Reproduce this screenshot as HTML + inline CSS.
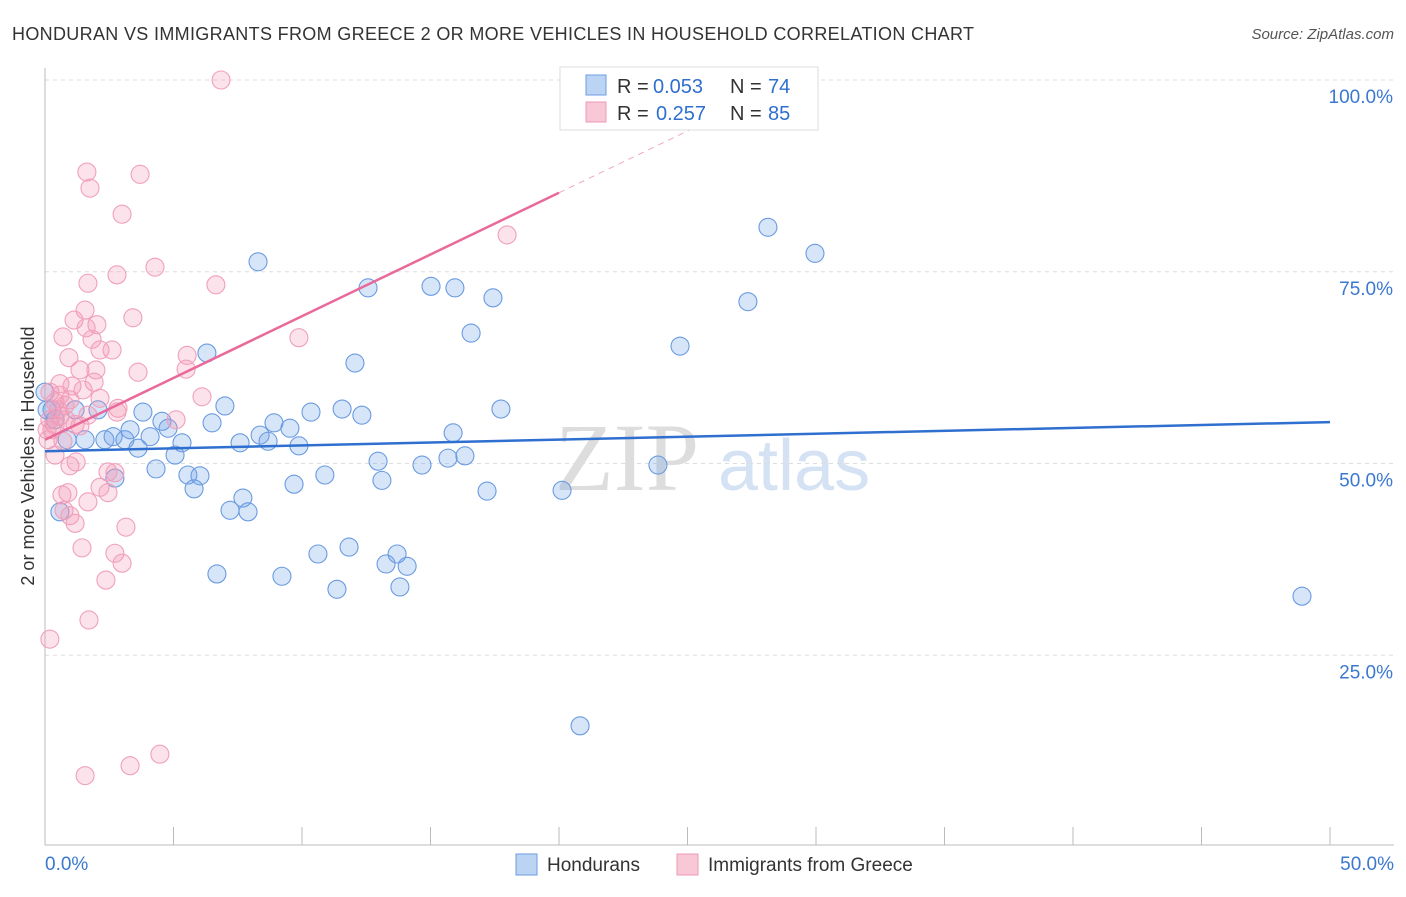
<!DOCTYPE html>
<html><head><meta charset="utf-8"><style>
body{margin:0;background:#fff;font-family:"Liberation Sans",sans-serif}
</style></head><body>
<svg id="c" width="1406" height="892" xmlns="http://www.w3.org/2000/svg" style="font-family:'Liberation Sans',sans-serif">
<text x="12" y="40" font-size="18" fill="#333" textLength="962">HONDURAN VS IMMIGRANTS FROM GREECE 2 OR MORE VEHICLES IN HOUSEHOLD CORRELATION CHART</text>
<text x="1394" y="39" font-size="15" fill="#555" font-style="italic" text-anchor="end">Source: ZipAtlas.com</text>
<text x="34" y="456" font-size="18" fill="#333" text-anchor="middle" transform="rotate(-90 34 456)">2 or more Vehicles in Household</text>
<g><text x="555" y="490" font-size="96" fill="#ddd" font-family="Liberation Serif">ZIP</text><text x="718" y="490" font-size="72" fill="#d4e2f4">atlas</text></g>
<g id="grid"></g><g id="axes"></g><g id="pts"></g><g id="trend"></g>
<g>
<rect x="560" y="67" width="258" height="63" fill="#fff" stroke="#ddd"/>
<rect x="586" y="75" width="20" height="20" fill="#bcd4f4" stroke="#6a9be0"/>
<rect x="586" y="102" width="20" height="20" fill="#f9c8d6" stroke="#ee9ab5"/>
<text x="617" y="93" font-size="20" fill="#333">R =</text>
<text x="653" y="93" font-size="20" fill="#2f6fd0">0.053</text>
<text x="730" y="93" font-size="20" fill="#333">N =</text>
<text x="768" y="93" font-size="20" fill="#2f6fd0">74</text>
<text x="617" y="120" font-size="20" fill="#333">R =</text>
<text x="656" y="120" font-size="20" fill="#2f6fd0">0.257</text>
<text x="730" y="120" font-size="20" fill="#333">N =</text>
<text x="768" y="120" font-size="20" fill="#2f6fd0">85</text>
</g>
<g>
<rect x="516" y="854" width="21" height="21" fill="#bcd4f4" stroke="#6a9be0"/>
<text x="547" y="871" font-size="19" fill="#333">Hondurans</text>
<rect x="677" y="854" width="21" height="21" fill="#f9c8d6" stroke="#ee9ab5"/>
<text x="708" y="871" font-size="19" fill="#333">Immigrants from Greece</text>
</g>
</svg>
<script>
const yTicks=[25,50,75,100];
const yTickLabels=["25.0%","50.0%","75.0%","100.0%"];
const xTickLabels=["0.0%","50.0%"];
const blueX=[0.58,0.08,0.39,0.86,1.17,1.56,2.06,2.33,2.65,3.11,3.31,3.62,3.81,4.09,4.32,4.55,4.79,5.06,5.33,5.56,5.80,6.03,6.30,6.50,6.69,7.00,7.20,7.59,7.70,7.90,8.29,8.37,8.68,8.91,9.22,9.53,9.69,9.88,10.35,10.62,10.89,11.36,11.56,11.83,12.06,12.33,12.57,12.96,13.11,13.27,13.70,13.81,14.09,14.67,15.02,15.68,15.88,15.95,16.34,16.58,17.20,17.43,17.74,20.12,20.82,23.85,24.71,27.35,28.13,29.96,48.91,2.72,0.0,0.27];
const blueY=[43.7,57.0,55.7,53.1,57.0,53.1,57.0,53.1,53.5,53.1,54.4,52.0,56.7,53.5,49.3,55.5,54.6,51.1,52.7,48.5,46.7,48.4,64.4,55.3,35.6,57.5,43.9,52.7,45.5,43.7,76.3,53.7,52.9,55.3,35.3,54.6,47.3,52.3,56.7,38.2,48.5,33.6,57.1,39.1,63.1,56.3,72.9,50.3,47.8,36.9,38.2,33.9,36.6,49.8,73.1,50.7,54.0,72.9,51.0,67.0,46.4,71.6,57.1,46.5,15.8,49.8,65.3,71.1,80.8,77.4,32.7,48.1,59.3,57.0];
const pinkX=[6.85,1.63,3.70,1.75,3.00,17.98,4.28,2.80,1.67,6.65,1.56,3.42,1.13,2.02,1.60,0.70,9.88,1.83,2.14,2.61,5.53,0.93,1.36,1.98,3.62,5.49,1.91,0.58,1.05,1.48,0.19,6.11,2.14,0.97,0.39,2.84,2.80,1.67,0.58,0.78,0.19,5.10,1.17,0.27,1.36,0.70,0.12,0.39,1.21,0.97,2.45,2.72,2.14,0.89,2.45,0.66,1.67,0.74,0.97,1.17,3.15,1.44,2.72,3.00,2.37,1.71,0.19,4.47,3.31,1.56,0.39,0.51,0.82,0.08,0.58];
const pinkY=[100,88.0,87.7,85.9,82.5,79.8,75.6,74.6,73.5,73.3,70.0,69.0,68.7,68.1,67.7,66.5,66.4,66.2,64.8,64.8,64.1,63.8,62.2,62.2,61.9,62.3,60.6,60.4,60.1,59.6,59.3,58.7,58.5,58.3,58.0,57.2,56.7,56.3,56.2,57.6,55.7,55.7,55.1,54.4,54.9,52.9,53.1,51.1,50.2,49.7,48.9,48.8,46.9,46.2,46.2,45.9,45.0,43.9,43.2,42.2,41.7,39.0,38.3,37.0,34.8,29.6,27.1,12.1,10.6,9.3,55.0,57.0,55.7,54.4,58.9];
const blueTrend=[51.6,55.4];
const pinkTrend=[53.1,1.61];
const X=v=>45+v/50*1285, Y=v=>847-v/100*767;
const NS="http://www.w3.org/2000/svg";
function mk(p,t,a){const e=document.createElementNS(NS,t);for(const k in a)e.setAttribute(k,a[k]);document.getElementById(p).appendChild(e);return e;}
yTicks.forEach((t,i)=>{
 const g=mk('grid','line',{x1:45,x2:1394,y1:Y(t),y2:Y(t),stroke:'#ddd','stroke-dasharray':'4,4'});
 
 
 const l=mk('grid','text',{x:1393,y:Y(t)+23,'font-size':19,fill:'#3b78d0','text-anchor':'end'});
 l.textContent=yTickLabels[i];
 
 
});
const ax=mk('axes','line',{x1:45,x2:45,y1:68,y2:845,stroke:'#bbb'});


const bx=mk('axes','line',{x1:45,x2:1394,y1:845,y2:845,stroke:'#bbb'});


for(let i=0;i<=10;i++){const t=mk('axes','line',{x1:X(i*5),x2:X(i*5),y1:827,y2:845,stroke:'#bbb'});
 
 }
[[0,'start',45],[50,'end',1394]].forEach((d,i)=>{const t=mk('axes','text',{x:d[2],y:870,'font-size':19,fill:'#3b78d0','text-anchor':d[1]});t.textContent=xTickLabels[i];
 
 });
blueX.forEach((x,i)=>{const c=mk('pts','circle',{cx:X(x),cy:Y(blueY[i]),r:9,fill:'rgba(110,160,235,0.28)',stroke:'#6a9be0','stroke-width':1.1});
 
 });
pinkX.forEach((x,i)=>{const c=mk('pts','circle',{cx:X(x),cy:Y(pinkY[i]),r:9,fill:'rgba(245,150,180,0.28)',stroke:'#f0a0bb','stroke-width':1.1});
 
 });
const bt=mk('trend','line',{x1:X(0),y1:Y(blueTrend[0]),x2:X(50),y2:Y(blueTrend[1]),stroke:'#2f6fd0','stroke-width':2.5});


const pt=mk('trend','line',{x1:X(0),y1:Y(pinkTrend[0]),x2:X(20),y2:Y(pinkTrend[0]+20*pinkTrend[1]),stroke:'#e8699a','stroke-width':2.5});


const pd=mk('trend','line',{x1:X(20),y1:Y(pinkTrend[0]+20*pinkTrend[1]),x2:X(29),y2:Y(pinkTrend[0]+29*pinkTrend[1]),stroke:'#f0a8c0','stroke-width':1,'stroke-dasharray':'6,5'});


</script>
</body></html>
